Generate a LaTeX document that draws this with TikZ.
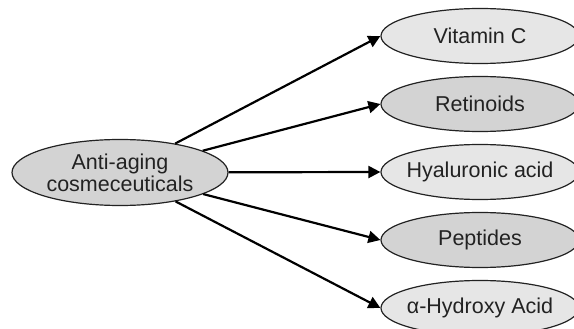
\documentclass[tikz,border=0pt]{standalone}
\usepackage{fontspec}
\setmainfont{Liberation Sans}
\usetikzlibrary{shapes.geometric,arrows.meta}
\definecolor{lightfill}{HTML}{E6E6E6}
\definecolor{darkfill}{HTML}{D3D3D3}
\definecolor{ink}{HTML}{222222}
\begin{document}
\begin{tikzpicture}[x=1pt,y=-1pt,
  bubble/.style={ellipse, draw=ink, line width=1.2pt, text=ink,
    font=\fontsize{21.5}{22}\selectfont, align=center},
  hub/.style={bubble, fill=darkfill, minimum width=216pt, minimum height=66pt, inner sep=0pt},
  leaf/.style={bubble, minimum width=198pt, minimum height=55pt, inner xsep=-14pt, inner ysep=0pt},
  leaflight/.style={leaf, fill=lightfill},
  leafdark/.style={leaf, fill=darkfill},
  link/.style={line width=2.2pt, black, -{Triangle[length=12pt,width=12pt]}}
]
\clip (0,0) rectangle (574,329);
\useasboundingbox (0,0) rectangle (574,329);

% central concept
\node[hub] (hub) at (120,172.5) {Anti-aging\\cosmeceuticals};

% ingredient classes
\node[leaflight] (vitc) at (480,36)  {Vitamin C};
\node[leafdark]  (ret)  at (480,104) {Retinoids};
\node[leaflight] (hya)  at (480,172) {Hyaluronic acid};
\node[leafdark]  (pep)  at (480,240) {Peptides};
\node[leaflight] (aha)  at (480,308) {α-Hydroxy Acid};

% connectors
\foreach \t in {vitc,ret,hya,pep,aha}
  \draw[link] (hub) -- (\t.west);
\end{tikzpicture}
\end{document}
